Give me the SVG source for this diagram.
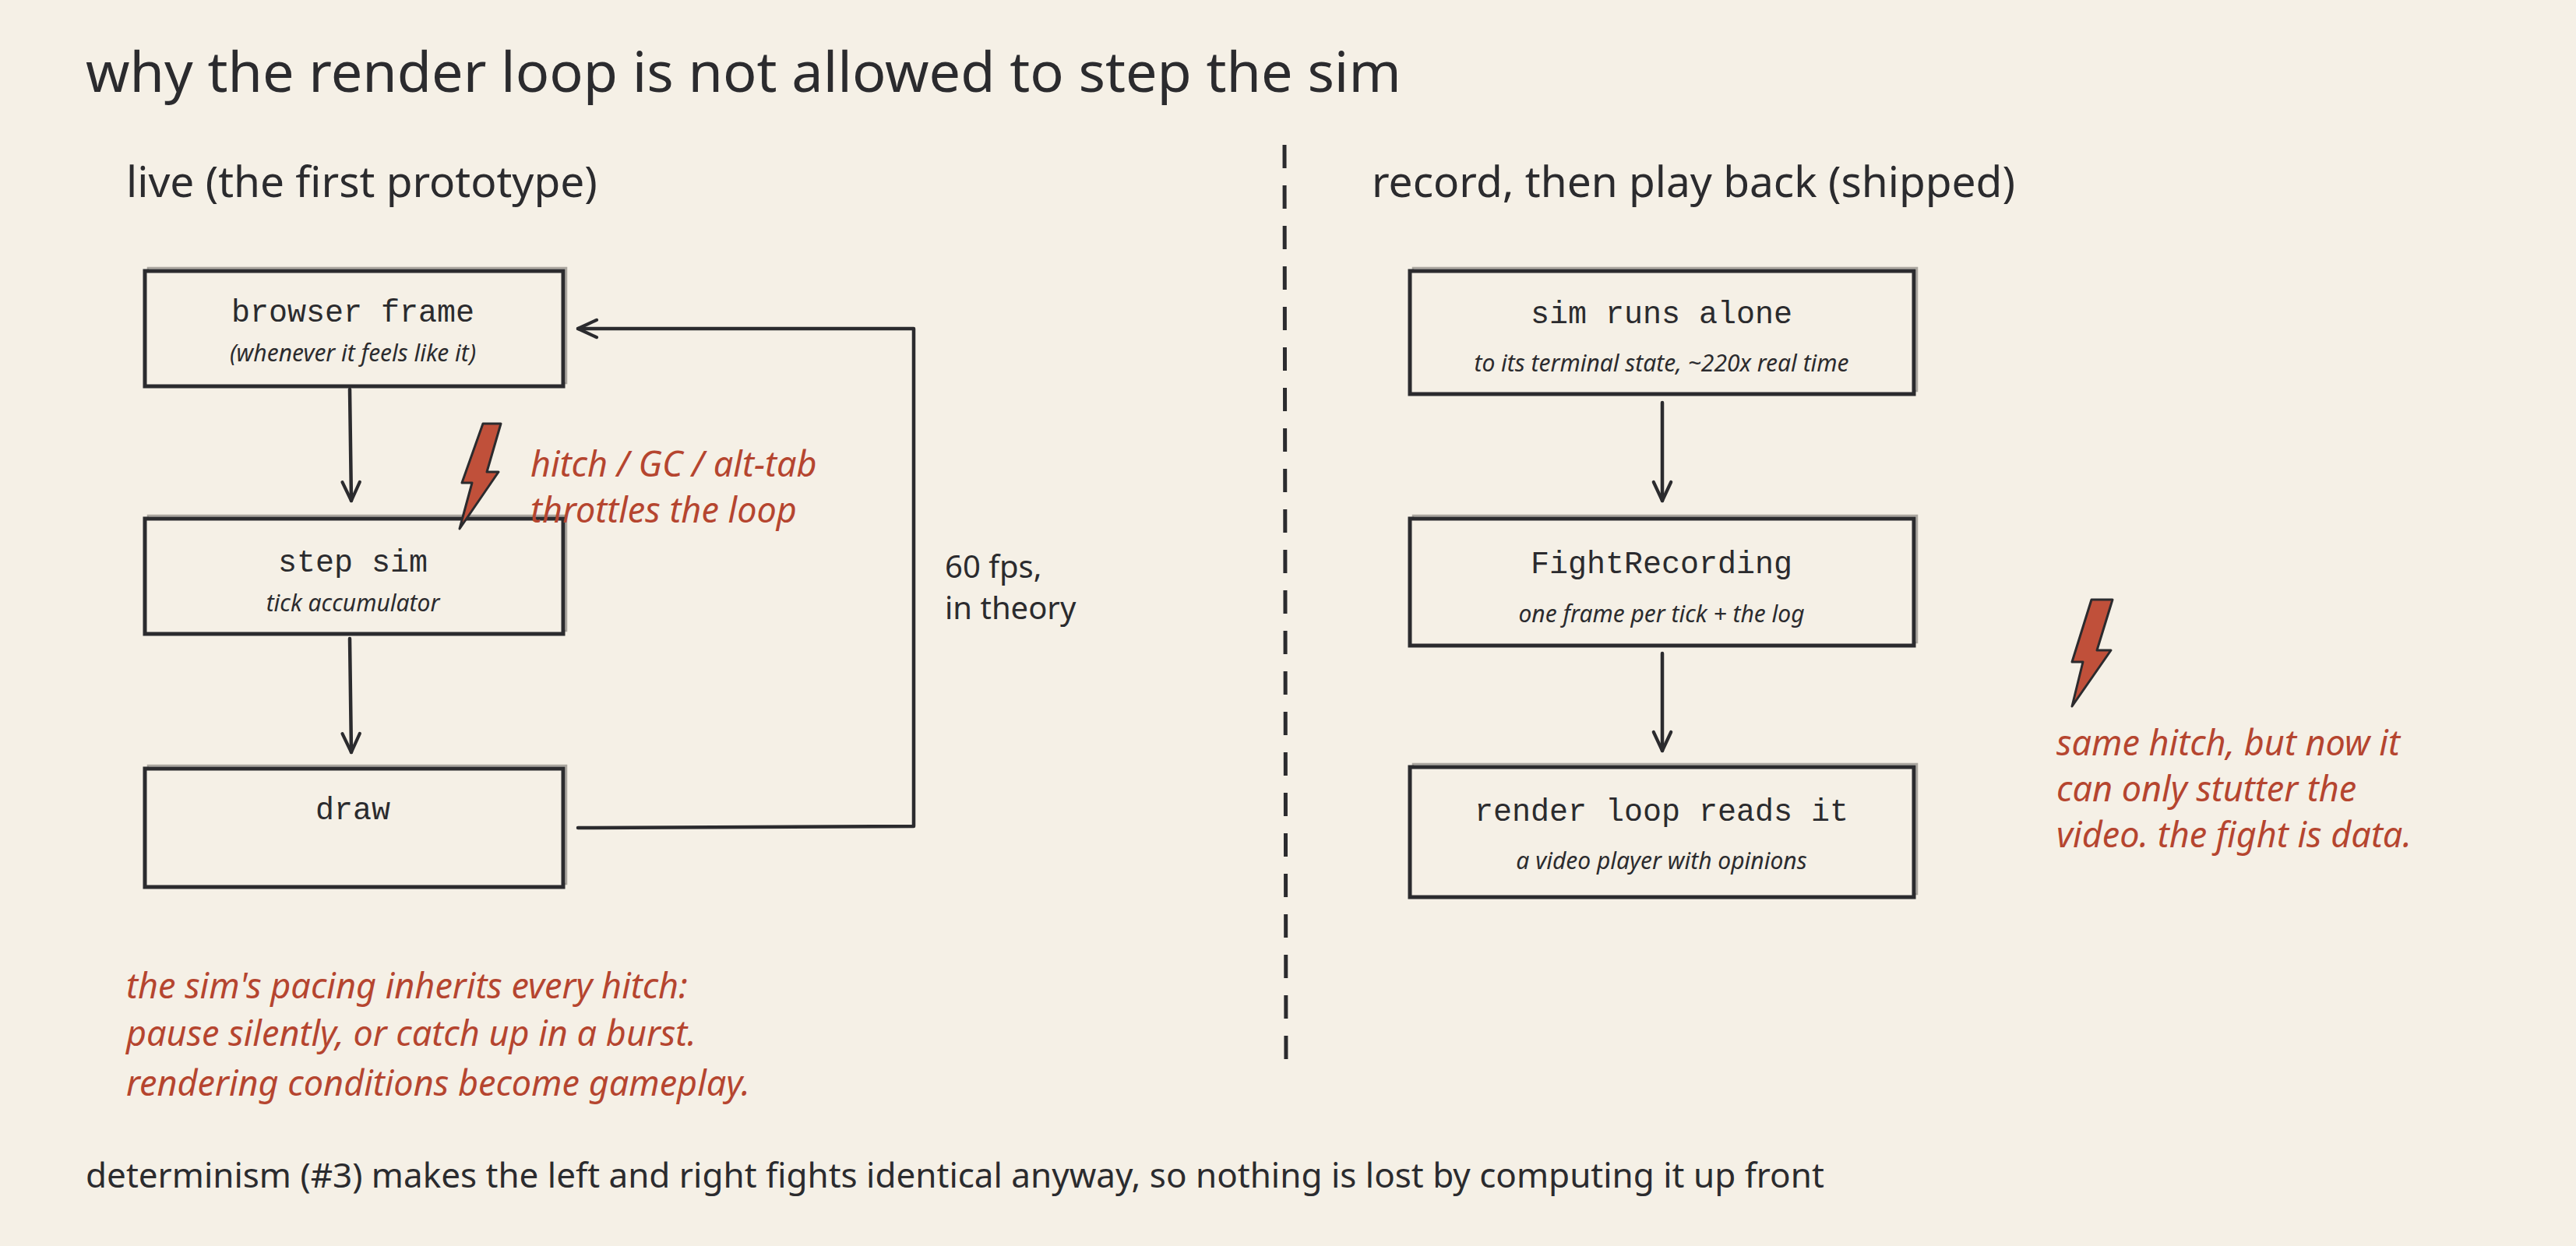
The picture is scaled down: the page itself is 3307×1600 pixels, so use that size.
<svg xmlns="http://www.w3.org/2000/svg" width="3307" height="1600" viewBox="0 0 3307 1600">
<style>
.bg{fill:#f5f0e6}
.box{fill:#f5f0e6;stroke:#2b2b2e;stroke-width:5}
.ghost{fill:none;stroke:#8a8680;stroke-width:2.5;opacity:.7}
.t{font-family:"Liberation Mono","DejaVu Sans Mono",monospace;font-size:40px;fill:#2b2b2e;text-anchor:middle}
.s{font-family:"Noto Sans","DejaVu Sans",sans-serif;font-style:italic;font-size:30px;fill:#2b2b2e;text-anchor:middle}
.h{font-family:"Noto Sans","DejaVu Sans",sans-serif;font-size:55px;fill:#2b2b2e}
.n{font-family:"Noto Sans","DejaVu Sans",sans-serif;font-size:40px;fill:#2b2b2e}
.f{font-family:"Noto Sans","DejaVu Sans",sans-serif;font-size:44px;fill:#2b2b2e}
.r{font-family:"Noto Sans","DejaVu Sans",sans-serif;font-style:italic;font-size:45px;fill:#b5452f}
.line{fill:none;stroke:#2b2b2e;stroke-width:4.5;stroke-linecap:round;stroke-linejoin:round}
.bolt{fill:#c0503a;stroke:#2b2b2e;stroke-width:3;stroke-linejoin:round}
</style>
<defs>
<marker id="ah" viewBox="0 0 20 20" refX="17" refY="10" markerWidth="32" markerHeight="32" markerUnits="userSpaceOnUse" orient="auto">
<path d="M2,3 L17,10 L2,17" fill="none" stroke="#2b2b2e" stroke-width="2.6" stroke-linecap="round" stroke-linejoin="round"/>
</marker>
</defs>
<rect class="bg" x="0" y="0" width="3307" height="1600"/>
<text class="h" x="110" y="118" style="font-size:72px">why the render loop is not allowed to step the sim</text>
<text class="h" x="162" y="253">live (the first prototype)</text>
<text class="h" x="1761" y="253">record, then play back (shipped)</text>
<line x1="1649" y1="186" x2="1651" y2="1381" stroke="#2b2b2e" stroke-width="5" stroke-dasharray="30 22"/>

<g id="browser-frame"><rect class="ghost" x="190" y="344" width="537" height="148"/><rect class="box" x="186" y="348" width="537" height="148"/>
<text class="t" x="453" y="413">browser frame</text><text class="s" x="453" y="464">(whenever it feels like it)</text></g>
<g id="step-sim"><rect class="ghost" x="190" y="662" width="537" height="148"/><rect class="box" x="186" y="666" width="537" height="148"/>
<text class="t" x="453" y="734">step sim</text><text class="s" x="453" y="785">tick accumulator</text></g>
<g id="draw"><rect class="ghost" x="190" y="983" width="537" height="152"/><rect class="box" x="186" y="987" width="537" height="152"/>
<text class="t" x="453" y="1052">draw</text></g>

<g id="sim-runs-alone"><rect class="ghost" x="1814" y="344" width="647" height="158"/><rect class="box" x="1810" y="348" width="647" height="158"/>
<text class="t" x="2133" y="415">sim runs alone</text><text class="s" x="2133" y="477">to its terminal state, ~220x real time</text></g>
<g id="fight-recording"><rect class="ghost" x="1814" y="662" width="647" height="163"/><rect class="box" x="1810" y="666" width="647" height="163"/>
<text class="t" x="2133" y="736">FightRecording</text><text class="s" x="2133" y="799">one frame per tick + the log</text></g>
<g id="render-loop"><rect class="ghost" x="1814" y="981" width="647" height="167"/><rect class="box" x="1810" y="985" width="647" height="167"/>
<text class="t" x="2133" y="1054">render loop reads it</text><text class="s" x="2133" y="1116">a video player with opinions</text></g>

<g id="connectors">
<path class="line" d="M449,500 L451,643" marker-end="url(#ah)"/>
<path class="line" d="M449,820 L451,966" marker-end="url(#ah)"/>
<path class="line" d="M742,1063 L1173,1061 L1173,422 L742,422" marker-end="url(#ah)"/>
<path class="line" d="M2134,517 L2134,643" marker-end="url(#ah)"/>
<path class="line" d="M2134,839 L2134,964" marker-end="url(#ah)"/>
</g>
<text class="n" x="1213" y="742">60 fps,</text>
<text class="n" x="1213" y="795">in theory</text>

<g id="bolt-left"><path class="bolt" d="M620,544 L643,544 L625,606 L640,606 L590,679 L606,620 L593,620 Z"/></g>
<text class="r" x="681" y="612">hitch / GC / alt-tab</text>
<text class="r" x="681" y="671">throttles the loop</text>

<g id="bolt-right"><path class="bolt" d="M2685,770 L2712,770 L2692,835 L2710,835 L2660,907 L2674,850 L2660,850 Z"/></g>
<text class="r" x="2640" y="970">same hitch, but now it</text>
<text class="r" x="2640" y="1029">can only stutter the</text>
<text class="r" x="2640" y="1088">video. the fight is data.</text>

<text class="r" x="162" y="1282">the sim's pacing inherits every hitch:</text>
<text class="r" x="162" y="1343">pause silently, or catch up in a burst.</text>
<text class="r" x="162" y="1407">rendering conditions become gameplay.</text>

<text class="f" x="110" y="1525">determinism (#3) makes the left and right fights identical anyway, so nothing is lost by computing it up front</text>
</svg>
